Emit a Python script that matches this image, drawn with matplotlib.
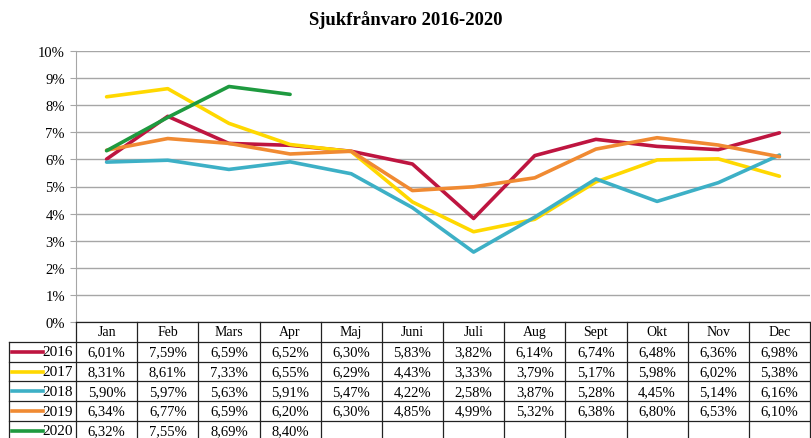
import matplotlib
matplotlib.use("Agg")
import matplotlib.pyplot as plt
import numpy as np

months = ["Jan", "Feb", "Mars", "Apr", "Maj", "Juni", "Juli", "Aug", "Sept", "Okt", "Nov", "Dec"]
years = ["2016", "2017", "2018", "2019", "2020"]
y2016 = [6.01, 7.59, 6.59, 6.52, 6.30, 5.83, 3.82, 6.14, 6.74, 6.48, 6.36, 6.98]
y2017 = [8.31, 8.61, 7.33, 6.55, 6.29, 4.43, 3.33, 3.79, 5.17, 5.98, 6.02, 5.38]
y2018 = [5.90, 5.97, 5.63, 5.91, 5.47, 4.22, 2.58, 3.87, 5.28, 4.45, 5.14, 6.16]
y2019 = [6.34, 6.77, 6.59, 6.20, 6.30, 4.85, 4.99, 5.32, 6.38, 6.80, 6.53, 6.10]
y2020 = [6.32, 7.55, 8.69, 8.40]
series = [y2016, y2017, y2018, y2019, y2020]
colors = ["#BE1540", "#FFD800", "#3DB0C6", "#F08A32", "#1E9A3F"]
yticks = [0, 1, 2, 3, 4, 5, 6, 7, 8, 9, 10]

plt.rcParams["font.family"] = ["Liberation Serif", "DejaVu Serif"]

W, H = 811, 439
fig = plt.figure(figsize=(W / 100, H / 100), dpi=100)


def px(l, t, r, b):
    return [l / W, 1 - b / H, (r - l) / W, (b - t) / H]


L, R = 76, 810
ax = fig.add_axes(px(L, 52, R, 323))
ax.set_xlim(-0.5, 11.5)
ax.set_ylim(0, 10)
ax.set_yticks(yticks)
ax.set_yticklabels([f"{t}%" for t in yticks], fontsize=10.5)
ax.set_xticks([])
ax.grid(axis="y", color="#A6A6A6", lw=1)
ax.tick_params(axis="y", length=4, color="#A6A6A6", pad=4)
for s in ["top", "right", "bottom"]:
    ax.spines[s].set_visible(False)
ax.spines["left"].set_color("#A6A6A6")
ax.set_axisbelow(True)

for vals, c in zip(series, colors):
    ax.plot(np.arange(len(vals)), vals, color=c, lw=2.6, solid_joinstyle="round", solid_capstyle="round")

fig.text(0.5, 1 - 20 / H, "Sjukfrånvaro 2016-2020", ha="center", va="center",
         fontsize=13.5, fontweight="bold")

# data table
row_h = 19.8
nrows = 6
tax = fig.add_axes(px(L, 323, R, 323 + row_h * nrows))
tax.set_xlim(-0.5, 11.5)
tax.set_ylim(nrows, 0)
tax.axis("off")
colw = (R - L) / 12
leg_left = -0.5 - (L - 9) / colw
lc = "#222222"
lw = 0.9
# header top
tax.plot([-0.5, 11.5], [0, 0], color=lc, lw=lw, clip_on=False)
for r in range(1, nrows):
    tax.plot([leg_left, 11.5], [r, r], color=lc, lw=lw, clip_on=False)
for k in range(13):
    x = -0.5 + k
    tax.plot([x, x], [0, nrows], color=lc, lw=lw, clip_on=False)
tax.plot([leg_left, leg_left], [1, nrows], color=lc, lw=lw, clip_on=False)

for i, m in enumerate(months):
    tax.text(i, 0.5, m, ha="center", va="center", fontsize=10)
for r, (yr, vals, c) in enumerate(zip(years, series, colors), start=1):
    tax.plot([leg_left + 0.05, leg_left + 0.55], [r + 0.5, r + 0.5], color=c, lw=2.6, clip_on=False)
    tax.text(-0.55, r + 0.5, yr, ha="right", va="center", fontsize=11)
    for i, v in enumerate(vals):
        tax.text(i, r + 0.5, f"{v:.2f}%".replace(".", ","), ha="center", va="center", fontsize=10.5)

fig.savefig("out.png", dpi=100)
